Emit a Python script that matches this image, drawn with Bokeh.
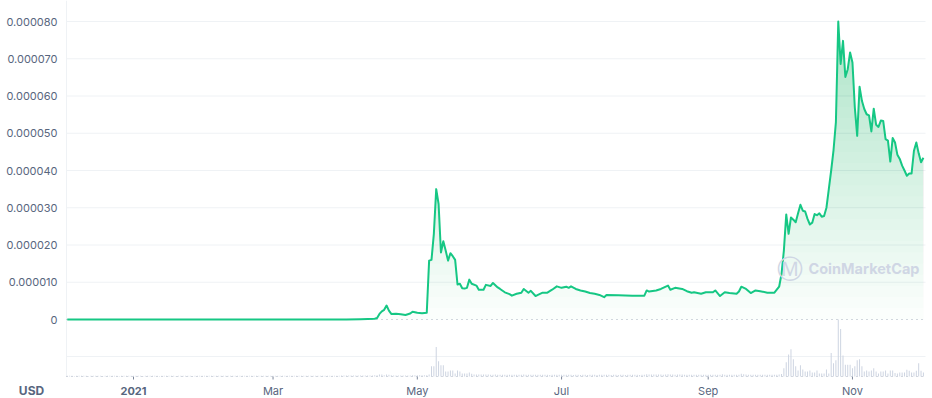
import numpy as np
import pandas as pd
from bokeh.plotting import figure
from bokeh.models import Range1d, Label
from bokeh.embed import file_html
from bokeh.resources import INLINE

# ---------------- data ----------------
price_dates = [
    "2020-12-04", "2020-12-25", "2021-01-15", "2021-02-01", "2021-02-12", "2021-03-01",
    "2021-03-20", "2021-04-01", "2021-04-07", "2021-04-13", "2021-04-14", "2021-04-15",
    "2021-04-16", "2021-04-17", "2021-04-18", "2021-04-19", "2021-04-20", "2021-04-22",
    "2021-04-24", "2021-04-26", "2021-04-28", "2021-04-29", "2021-05-01", "2021-05-03",
    "2021-05-05", "2021-05-06", "2021-05-07", "2021-05-08", "2021-05-09", "2021-05-10",
    "2021-05-11", "2021-05-12", "2021-05-13", "2021-05-14", "2021-05-15", "2021-05-16",
    "2021-05-17", "2021-05-18", "2021-05-19", "2021-05-20", "2021-05-21", "2021-05-22",
    "2021-05-23", "2021-05-24", "2021-05-26", "2021-05-27", "2021-05-29", "2021-05-30",
    "2021-06-01", "2021-06-02", "2021-06-04", "2021-06-05", "2021-06-07", "2021-06-09",
    "2021-06-10", "2021-06-12", "2021-06-14", "2021-06-15", "2021-06-17", "2021-06-18",
    "2021-06-20", "2021-06-21", "2021-06-23", "2021-06-25", "2021-06-27", "2021-06-29",
    "2021-07-01", "2021-07-03", "2021-07-04", "2021-07-05", "2021-07-07", "2021-07-09",
    "2021-07-11", "2021-07-13", "2021-07-15", "2021-07-17", "2021-07-19", "2021-07-20",
    "2021-07-25", "2021-07-31", "2021-08-05", "2021-08-06", "2021-08-07", "2021-08-10",
    "2021-08-12", "2021-08-15", "2021-08-16", "2021-08-18", "2021-08-21", "2021-08-23",
    "2021-08-25", "2021-08-26", "2021-08-29", "2021-08-31", "2021-09-03", "2021-09-04",
    "2021-09-06", "2021-09-08", "2021-09-10", "2021-09-13", "2021-09-14", "2021-09-15",
    "2021-09-17", "2021-09-19", "2021-09-21", "2021-09-23", "2021-09-26", "2021-09-29",
    "2021-09-30", "2021-10-01", "2021-10-02", "2021-10-03", "2021-10-04", "2021-10-05",
    "2021-10-06", "2021-10-07", "2021-10-08", "2021-10-09", "2021-10-10", "2021-10-11",
    "2021-10-12", "2021-10-13", "2021-10-14", "2021-10-15", "2021-10-16", "2021-10-17",
    "2021-10-18", "2021-10-19", "2021-10-20", "2021-10-21", "2021-10-22", "2021-10-23",
    "2021-10-24", "2021-10-25", "2021-10-26", "2021-10-27", "2021-10-28", "2021-10-29",
    "2021-10-30", "2021-10-31", "2021-11-01", "2021-11-02", "2021-11-03", "2021-11-04",
    "2021-11-05", "2021-11-06", "2021-11-07", "2021-11-08", "2021-11-09", "2021-11-10",
    "2021-11-11", "2021-11-12", "2021-11-13", "2021-11-14", "2021-11-15", "2021-11-16",
    "2021-11-17", "2021-11-18", "2021-11-19", "2021-11-20", "2021-11-21", "2021-11-22",
    "2021-11-23", "2021-11-24", "2021-11-25", "2021-11-26", "2021-11-27", "2021-11-28",
    "2021-11-29", "2021-11-30", "2021-12-01",
]
price_usd = [
    3.0e-9, 4.0e-9, 6.0e-9, 1.0e-8, 2.0e-8, 1.2e-8,
    1.0e-8, 2.0e-8, 8.0e-8, 2.0e-7, 4.0e-7, 1.5e-6,
    2.2e-6, 2.6e-6, 3.75e-6, 2.4e-6, 1.5e-6, 1.55e-6,
    1.4e-6, 1.2e-6, 1.6e-6, 2.1e-6, 1.8e-6, 1.7e-6,
    1.8e-6, 1.58e-5, 1.6e-5, 2.3e-5, 3.5e-5, 3.1e-5,
    1.8e-5, 2.1e-5, 1.85e-5, 1.58e-5, 1.78e-5, 1.7e-5,
    1.6e-5, 9.4e-6, 9.6e-6, 8.4e-6, 8.3e-6, 8.5e-6,
    1.07e-5, 9.6e-6, 9.1e-6, 8.0e-6, 8.0e-6, 9.3e-6,
    9.0e-6, 9.8e-6, 8.6e-6, 8.2e-6, 7.3e-6, 6.8e-6,
    6.4e-6, 6.9e-6, 7.2e-6, 8.2e-6, 7.2e-6, 7.7e-6,
    6.3e-6, 6.6e-6, 7.2e-6, 7.2e-6, 8.0e-6, 8.9e-6,
    8.5e-6, 8.8e-6, 8.5e-6, 8.9e-6, 8.2e-6, 7.8e-6,
    7.5e-6, 7.1e-6, 6.9e-6, 6.6e-6, 6.0e-6, 6.6e-6,
    6.5e-6, 6.4e-6, 6.4e-6, 7.8e-6, 7.5e-6, 7.8e-6,
    8.2e-6, 9.1e-6, 8.0e-6, 8.5e-6, 8.2e-6, 7.6e-6,
    7.2e-6, 7.3e-6, 6.9e-6, 7.3e-6, 7.3e-6, 7.8e-6,
    6.3e-6, 7.3e-6, 7.1e-6, 6.9e-6, 7.5e-6, 8.8e-6,
    8.2e-6, 7.1e-6, 7.8e-6, 7.6e-6, 7.2e-6, 7.2e-6,
    8.0e-6, 8.8e-6, 1.22e-5, 1.85e-5, 2.82e-5, 2.3e-5,
    2.74e-5, 2.68e-5, 2.61e-5, 2.85e-5, 3.08e-5, 2.92e-5,
    2.9e-5, 2.7e-5, 2.55e-5, 2.6e-5, 2.83e-5, 2.8e-5,
    2.85e-5, 2.76e-5, 2.78e-5, 3.0e-5, 3.5e-5, 4.0e-5,
    4.55e-5, 5.3e-5, 8.0e-5, 6.86e-5, 7.48e-5, 6.51e-5,
    6.72e-5, 7.17e-5, 6.9e-5, 5.69e-5, 4.93e-5, 6.25e-5,
    5.87e-5, 5.65e-5, 5.51e-5, 5.48e-5, 5.05e-5, 5.66e-5,
    5.23e-5, 5.17e-5, 5.34e-5, 5.33e-5, 4.84e-5, 4.8e-5,
    4.24e-5, 4.87e-5, 4.75e-5, 4.42e-5, 4.31e-5, 4.13e-5,
    4.0e-5, 3.86e-5, 3.92e-5, 3.92e-5, 4.53e-5, 4.75e-5,
    4.46e-5, 4.22e-5, 4.34e-5,
]

# daily trading volume (billion USD), 2020-12-04 .. 2021-12-01
vol_dec_2020 = [0.4, 0.4, 0.4, 0.3, 0.4, 0.4, 0.4, 0.4, 0.4, 0.3, 0.4, 0.4, 0.4, 0.4,
                0.4, 0.3, 0.4, 0.4, 0.4, 0.4, 0.4, 0.4, 0.3, 0.4, 0.4, 0.4, 0.4, 0.4]
vol_jan = [0.4, 0.4, 0.4, 0.4, 0.3, 0.4, 0.4, 0.4, 0.4, 0.4, 0.4, 0.3, 0.4, 0.4, 0.4, 0.4,
           0.4, 0.4, 0.3, 0.4, 0.4, 0.4, 0.4, 0.4, 0.4, 0.3, 0.4, 0.4, 0.4, 0.4, 0.4]
vol_feb = [0.4, 0.4, 0.4, 0.5, 0.4, 0.4, 0.4, 0.4, 0.4, 0.5, 0.4, 0.4, 0.4, 0.4,
           0.4, 0.4, 0.5, 0.4, 0.4, 0.4, 0.4, 0.4, 0.4, 0.4, 0.4, 0.4, 0.4, 0.4]
vol_mar = [0.4, 0.4, 0.4, 0.4, 0.5, 0.4, 0.4, 0.4, 0.4, 0.4, 0.4, 0.5, 0.4, 0.4, 0.4, 0.4,
           0.4, 0.5, 0.4, 0.4, 0.4, 0.4, 0.5, 0.4, 0.4, 0.5, 0.5, 0.5, 0.5, 0.6, 0.6]
vol_apr = [0.6, 0.6, 0.6, 0.6, 0.6, 0.6, 0.6, 0.6, 0.6, 0.6, 0.6, 0.6, 0.7, 0.8, 1.2,
           1.2, 0.8, 1.2, 1.0, 0.7, 0.6, 0.6, 0.6, 0.6, 0.6, 0.6, 0.6, 0.6, 0.7, 0.7]
vol_may = [0.7, 0.7, 0.7, 0.8, 0.8, 1.2, 6.0, 6.0, 17.4, 9.0, 6.6, 6.6, 3.0, 3.0, 3.6, 3.6,
           1.8, 3.6, 3.0, 1.8, 1.8, 1.8, 2.4, 1.6, 1.2, 1.2, 1.2, 1.2, 1.2, 1.2, 1.2]
vol_jun = [1.0, 1.1, 1.2, 1.0, 1.0, 1.1, 1.0, 1.0, 1.0, 1.1, 1.0, 1.0, 1.0, 1.0, 1.2,
           1.0, 1.0, 1.0, 1.0, 1.0, 1.1, 1.0, 1.0, 1.0, 1.0, 0.9, 1.0, 1.0, 1.0, 1.0]
vol_jul = [1.0, 1.0, 1.1, 1.0, 1.0, 0.9, 1.0, 1.0, 0.9, 1.0, 1.0, 0.9, 1.0, 1.0, 1.0, 0.9,
           1.0, 1.0, 1.0, 1.1, 1.0, 0.9, 1.0, 1.0, 0.9, 1.0, 1.0, 0.9, 1.0, 1.0, 1.0]
vol_aug = [1.0, 1.0, 0.9, 1.0, 1.0, 1.3, 1.2, 1.2, 1.2, 1.2, 1.2, 1.2, 1.1, 1.2, 1.3, 1.2,
           1.2, 1.1, 1.2, 1.2, 1.2, 1.0, 1.0, 1.0, 1.1, 1.0, 1.0, 1.0, 1.0, 1.0, 1.0]
vol_sep = [1.0, 1.0, 1.0, 1.1, 1.0, 1.0, 1.4, 1.1, 1.0, 1.0, 1.0, 1.0, 1.0, 1.0, 1.6,
           1.4, 1.2, 1.1, 1.0, 1.0, 1.0, 1.0, 1.0, 1.0, 1.0, 1.0, 1.0, 1.0, 1.0, 1.1]
vol_oct = [1.2, 1.5, 4.8, 8.4, 13.0, 16.0, 10.2, 6.0, 3.6, 6.6, 4.2, 3.0, 3.0, 3.6, 2.4, 2.4,
           3.6, 1.8, 1.8, 1.8, 4.2, 1.8, 13.8, 7.8, 9.6, 33.6, 28.0, 12.4, 7.0, 7.0, 7.0]
vol_nov = [4.8, 6.0, 9.6, 10.2, 6.0, 3.0, 3.6, 3.0, 3.6, 4.8, 3.0, 1.8, 3.0, 3.0, 3.6,
           1.8, 3.6, 3.6, 2.0, 1.8, 2.4, 2.4, 2.4, 4.0, 3.4, 2.4, 2.4, 3.4, 7.8, 3.4]
vol_dec_2021 = [2.4]

y_ticks = [0.0, 0.00001, 0.00002, 0.00003, 0.00004, 0.00005, 0.00006, 0.00007, 0.00008]
y_tick_labels = ["0", "0.000010", "0.000020", "0.000030", "0.000040",
                 "0.000050", "0.000060", "0.000070", "0.000080"]
x_tick_dates = ["2021-01-01", "2021-03-01", "2021-05-01", "2021-07-01", "2021-09-01", "2021-11-01"]
x_tick_labels = ["2021", "Mar", "May", "Jul", "Sep", "Nov"]
currency_label = "USD"
watermark = "CoinMarketCap"

# ---------------- layout constants (pixels) ----------------
W, H = 932, 398
PLOT_L, PLOT_R = 66, 925          # plot area left / right
ZERO_Y, PX_PER_1E5 = 319, 37.25   # price zero line and scale
VOL_BASE_Y, VOL_MAX_PX = 376, 57  # volume baseline and tallest bar
JAN1_X, PX_PER_DAY = 133, 2.365

GREEN = "#16c784"
FILL = "#1bc67e"
LABEL = "#58667e"
GRID = "#eff2f5"
DOTS = "#a7afbc"
FONT = "Inter"

# ---------------- build ----------------
dates = pd.to_datetime(price_dates)
price = np.array(price_usd)
volume = np.array(vol_dec_2020 + vol_jan + vol_feb + vol_mar + vol_apr + vol_may + vol_jun
                  + vol_jul + vol_aug + vol_sep + vol_oct + vol_nov + vol_dec_2021)
vol_dates = pd.date_range("2020-12-04", periods=len(volume), freq="D")

jan1 = pd.Timestamp("2021-01-01")
def px_to_date(px):
    return jan1 + pd.Timedelta(days=(px - JAN1_X) / PX_PER_DAY)

x_start, x_end = px_to_date(0), px_to_date(W)
area_l, area_r = px_to_date(PLOT_L), px_to_date(PLOT_R)

y_top = ZERO_Y / PX_PER_1E5 * 1e-5
y_bot = -(H - ZERO_Y) / PX_PER_1E5 * 1e-5
vol_per_px = volume.max() / VOL_MAX_PX
v_top = VOL_BASE_Y * vol_per_px
v_bot = -(H - VOL_BASE_Y) * vol_per_px

p = figure(width=W, height=H, x_axis_type="datetime",
           x_axis_location=None, y_axis_location=None,
           output_backend="svg", toolbar_location=None,
           x_range=Range1d(x_start, x_end), y_range=Range1d(y_bot, y_top),
           min_border=0)
p.extra_y_ranges = {"vol": Range1d(v_bot, v_top)}
p.grid.visible = False
p.outline_line_color = None
p.background_fill_color = "white"
p.border_fill_color = "white"

# horizontal gridlines (price) and volume gridline
grid_vals = y_ticks[1:]
p.segment(x0=[area_l] * len(grid_vals), x1=[area_r] * len(grid_vals),
          y0=grid_vals, y1=grid_vals, line_color=GRID, line_width=1)
p.segment(x0=[area_l], x1=[area_r], y0=[20 * vol_per_px], y1=[20 * vol_per_px],
          line_color=GRID, line_width=1, y_range_name="vol")
# left border line of plot area
p.segment(x0=[area_l], x1=[area_l], y0=[0], y1=[v_top], line_color=GRID,
          line_width=1, y_range_name="vol")
# dotted zero line and dotted time axis
p.segment(x0=[area_l], x1=[area_r], y0=[0], y1=[0], line_color=DOTS,
          line_dash="1 4", line_width=1)
p.segment(x0=[area_l], x1=[area_r], y0=[0], y1=[0], line_color=DOTS,
          line_dash="1 4", line_width=1, y_range_name="vol")
# x tick marks
tick_ts = pd.to_datetime(x_tick_dates)
p.segment(x0=tick_ts, x1=tick_ts, y0=[0] * len(tick_ts), y1=[-3 * vol_per_px] * len(tick_ts),
          line_color="#7d879a", line_width=1, y_range_name="vol")

# volume bars
p.vbar(x=vol_dates, top=volume, bottom=0, width=0.42 * 86400000,
       fill_color="#cdd4e1", line_color=None, y_range_name="vol")

# gradient-like fill under price line (stacked translucent layers)
levels = np.arange(0, 8.1e-5, 3e-6)
for i, lv in enumerate(levels):
    a = 0.02 if i == 0 else 0.0104
    p.varea(x=dates, y1=lv, y2=np.maximum(price, lv), fill_color=FILL, fill_alpha=a)

p.line(dates, price, line_color=GREEN, line_width=2, line_join="round")

# y tick labels
for v, lab in zip(y_ticks, y_tick_labels):
    p.add_layout(Label(x=PLOT_L - 9, y=v, x_units="screen", y_units="data", text=lab,
                       text_align="right", text_baseline="middle", text_font=FONT,
                       text_font_size="11px", text_color=LABEL))
# x tick labels
for t, lab in zip(tick_ts, x_tick_labels):
    p.add_layout(Label(x=t.value // 10**6, y=H - 390, x_units="data", y_units="screen",
                       text=lab, text_align="center", text_baseline="middle",
                       text_font=FONT, text_font_size="11px", text_color=LABEL,
                       text_font_style="bold" if lab == "2021" else "normal"))
p.add_layout(Label(x=31, y=H - 390, x_units="screen", y_units="screen", text=currency_label,
                   text_align="center", text_baseline="middle", text_font=FONT,
                   text_font_size="12px", text_font_style="bold", text_color=LABEL))

# watermark
p.add_layout(Label(x=789, y=H - 268, x_units="screen", y_units="screen", text="Ⓜ",
                   text_align="center", text_baseline="middle", text_font="DejaVu Sans",
                   text_font_size="26px", text_color="#cfd6e4"))
p.add_layout(Label(x=808, y=H - 268, x_units="screen", y_units="screen", text=watermark,
                   text_align="left", text_baseline="middle", text_font=FONT,
                   text_font_size="14.5px", text_font_style="bold", text_color="#cfd6e4"))

open("out.html", "w").write(file_html(p, INLINE))
